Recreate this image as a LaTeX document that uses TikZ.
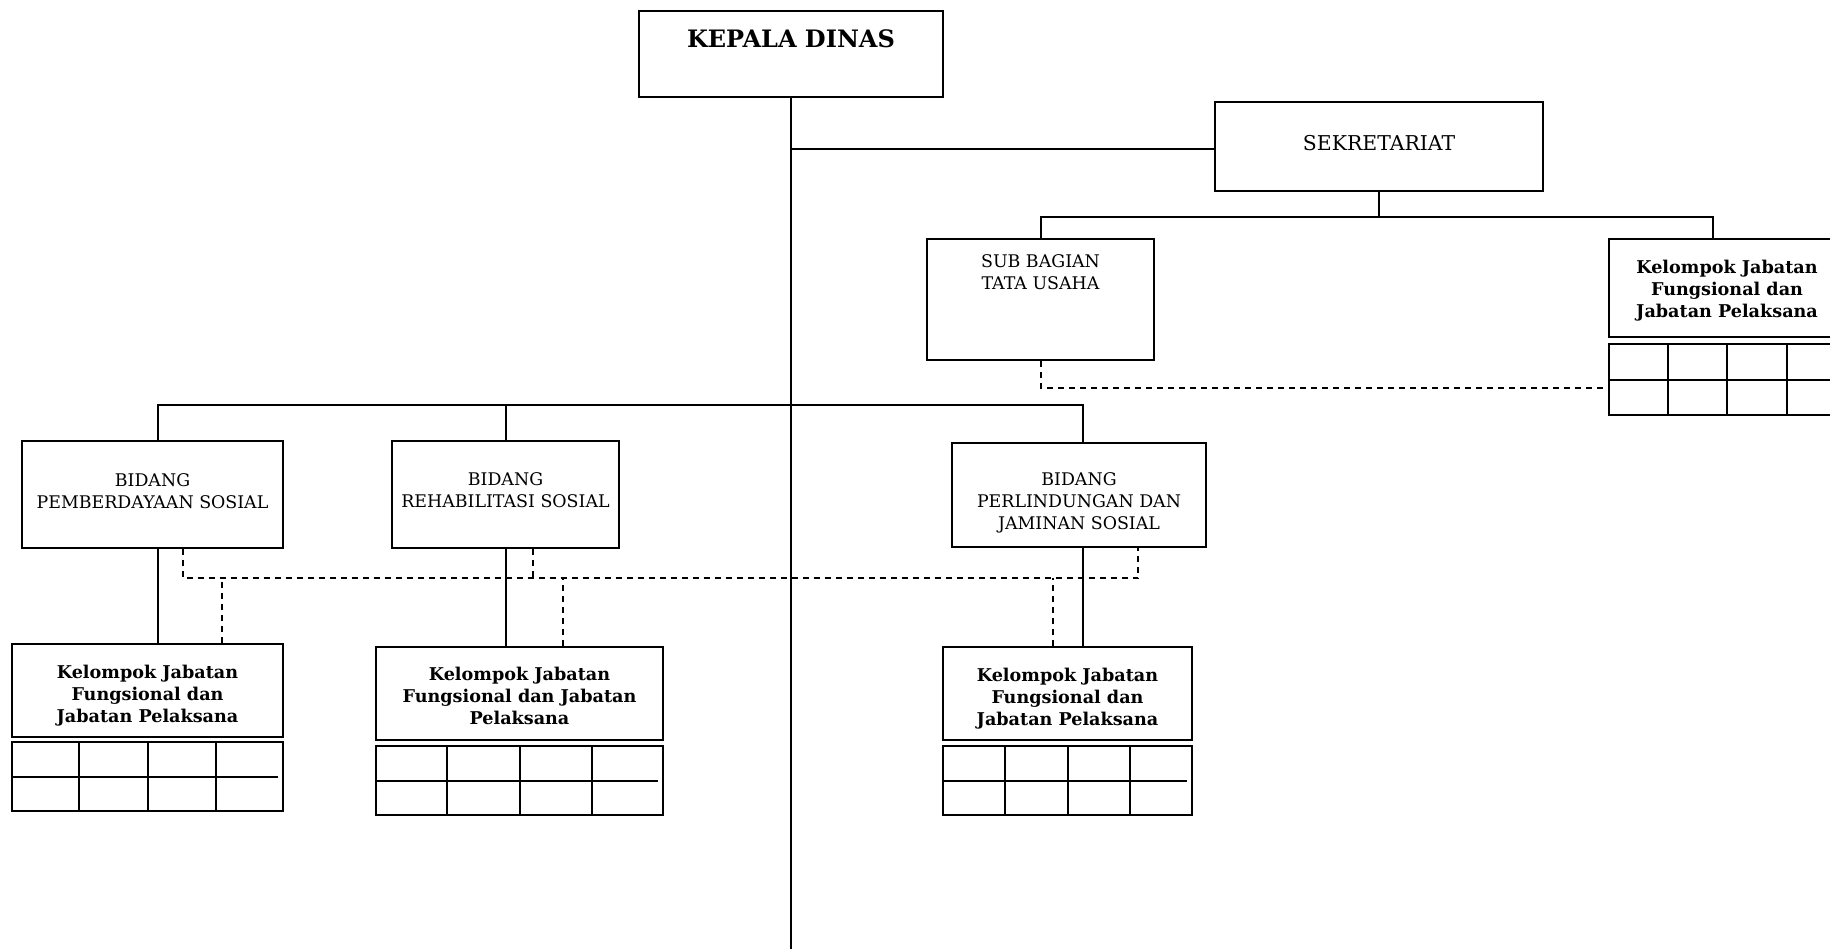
\documentclass[tikz,border=0pt]{standalone}
\usepackage{fontspec}
\setmainfont{DejaVu Serif}
\usetikzlibrary{positioning,calc}

\tikzset{
  orgbox/.style={draw, line width=1pt, inner xsep=0pt, inner ysep=0pt, align=center, anchor=base},
  unitbox/.style={orgbox, font=\fontsize{8.7}{11}\selectfont},
  groupbox/.style={orgbox, font=\bfseries\fontsize{8.8}{11}\selectfont},
  cellgrid/.style={draw, line width=1pt, inner sep=0pt, minimum height=34.5pt},
  link/.style={line width=1pt},
  dashlink/.style={line width=1pt, dash pattern=on 3pt off 2.5pt},
}

\begin{document}
\begin{tikzpicture}[x=0.5pt,y=-0.5pt]
 \useasboundingbox (0,0) rectangle (1830,949);

 % top
 \node[orgbox, font=\bfseries\fontsize{12}{14}\selectfont, minimum width=152pt,
       text height=18pt, text depth=25pt] (kepala) at (791,47) {KEPALA DINAS};
 \node[orgbox, font=\fontsize{10.2}{12}\selectfont, minimum width=164pt,
       text height=24pt, text depth=20.5pt] (sekretariat) at (1379,150) {SEKRETARIAT};
 \node[unitbox, minimum width=113.5pt, text height=25pt, text depth=35.5pt]
       (subbag) at (1040.5,289) {SUB BAGIAN\\TATA USAHA};
 \node[groupbox, minimum width=118pt, text height=39pt, text depth=10pt]
       (kfr) at (1727,317) {Kelompok Jabatan\\Fungsional dan\\Jabatan Pelaksana};

 % bidang
 \node[unitbox, minimum width=130.5pt, text height=33.5pt, text depth=20pt]
       (b1) at (152.5,508) {BIDANG\\PEMBERDAYAAN SOSIAL};
 \node[unitbox, minimum width=113.5pt, text height=33pt, text depth=20.5pt]
       (b2) at (505.5,507) {BIDANG\\REHABILITASI SOSIAL};
 \node[unitbox, minimum width=127pt, text height=43pt, text depth=9pt]
       (b3) at (1079,529) {BIDANG\\PERLINDUNGAN DAN\\JAMINAN SOSIAL};

 % kelompok jabatan
 \node[groupbox, minimum width=135.5pt, text height=39pt, text depth=7.5pt]
       (k1) at (147.5,722) {Kelompok Jabatan\\Fungsional dan\\Jabatan Pelaksana};
 \node[groupbox, minimum width=143.5pt, text height=38.5pt, text depth=8pt]
       (k2) at (519.5,724) {Kelompok Jabatan\\Fungsional dan Jabatan\\Pelaksana};
 \node[groupbox, minimum width=124.5pt, text height=39pt, text depth=7.5pt]
       (k3) at (1067.5,725) {Kelompok Jabatan\\Fungsional dan\\Jabatan Pelaksana};

 \node[cellgrid, below=1.5pt of k1, minimum width=135.5pt] (t1) {};
 \node[cellgrid, below=2pt of k2, minimum width=143.5pt] (t2) {};
 \node[cellgrid, below=2pt of k3, minimum width=124.5pt] (t3) {};
 \node[cellgrid, below=2.5pt of kfr, minimum width=118pt, minimum height=35.5pt] (t4) {};

 \foreach \t in {t1,t2,t3,t4} {
   \foreach \i in {1,2,3}
     \draw[link] ($(\t.north west)!\i/4!(\t.north east)$) -- ($(\t.south west)!\i/4!(\t.south east)$);
   \draw[link] (\t.west) -- ([xshift=-3pt]\t.east);
 }

 % lines
 \coordinate (end) at (791,949);
 \coordinate (sekbus) at (1379,217);
 \coordinate (bus) at (791,405);
 \coordinate (dbus) at (791,578);

 \draw[link] (kepala.south) -- (end);
 \draw[link] ([yshift=-1pt]kepala.south |- sekretariat.west) -- ([yshift=-1pt]sekretariat.west);
 \draw[link] (sekretariat.south) -- (sekbus);
 \draw[link] (subbag.north) |- (sekbus) -| ([xshift=-7pt]kfr.north);
 \draw[dashlink] (subbag.south) |- ([yshift=-4pt]t4.west);

 \draw[link] ([xshift=2.5pt]b1.north) |- (bus) -| ([xshift=2pt]b3.north);
 \draw[link] (b2.north) -- (b2.north |- bus);
 \draw[link] ([xshift=2.5pt]b1.south) -- ([xshift=2.5pt]b1.south |- k1.north);
 \draw[link] (b2.south) -- (b2.south |- k2.north);
 \draw[link] ([xshift=2pt]b3.south) -- ([xshift=2pt]b3.south |- k3.north);

 \draw[dashlink] ([xshift=15pt]b1.south) |- (dbus) -| ([xshift=29.5pt]b3.south);
 \draw[dashlink] ([xshift=13.5pt]b2.south) -- ([xshift=13.5pt]b2.south |- dbus);
 \draw[dashlink] ([xshift=37pt]k1.north) -- ([xshift=37pt]k1.north |- dbus);
 \draw[dashlink] ([xshift=21.75pt]k2.north) -- ([xshift=21.75pt]k2.north |- dbus);
 \draw[dashlink] ([xshift=-7.25pt]k3.north) -- ([xshift=-7.25pt]k3.north |- dbus);
\end{tikzpicture}
\end{document}
